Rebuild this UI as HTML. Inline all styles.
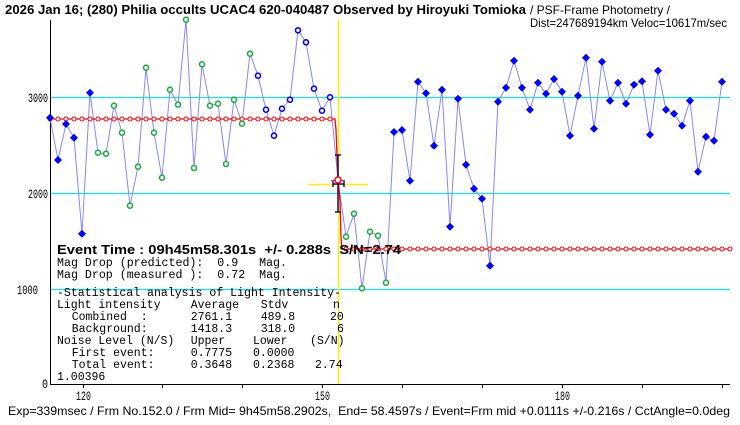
<!DOCTYPE html>
<html><head><meta charset="utf-8"><style>
html,body{margin:0;padding:0;background:#fff;}
svg{display:block;}
text{font-family:"Liberation Mono","Noto Sans CJK JP",monospace;fill:#000;white-space:pre;}
.s{font-family:"Liberation Sans","Noto Sans CJK JP",sans-serif;}
</style></head><body>
<svg width="740" height="425" viewBox="0 0 740 425" xmlns="http://www.w3.org/2000/svg" xml:space="preserve">
<rect width="740" height="425" fill="#fff"/>
<text x="5" y="14" font-size="13" font-weight="bold" class="s" textLength="521" lengthAdjust="spacingAndGlyphs">2026 Jan 16; (280) Philia occults UCAC4 620-040487 Observed by Hiroyuki Tomioka</text>
<text x="530" y="14" font-size="12" class="s" textLength="140" lengthAdjust="spacingAndGlyphs">/ PSF-Frame Photometry /</text>
<text x="530" y="27" font-size="12" class="s" textLength="197" lengthAdjust="spacingAndGlyphs">Dist=247689194km Veloc=10617m/sec</text>
<g stroke="#10e8f0" stroke-width="1.3">
<line x1="50" y1="97.5" x2="730" y2="97.5"/>
<line x1="50" y1="193.5" x2="730" y2="193.5"/>
<line x1="50" y1="289.5" x2="730" y2="289.5"/>
</g>
<line x1="50.5" y1="20" x2="50.5" y2="384" stroke="#000"/>
<line x1="50" y1="384.5" x2="730" y2="384.5" stroke="#000"/>
<g stroke="#000">
<line x1="83.5" y1="384" x2="83.5" y2="388"/><line x1="162.5" y1="384" x2="162.5" y2="388"/><line x1="242.5" y1="384" x2="242.5" y2="388"/><line x1="322.5" y1="384" x2="322.5" y2="388"/><line x1="402.5" y1="384" x2="402.5" y2="388"/><line x1="482.5" y1="384" x2="482.5" y2="388"/><line x1="562.5" y1="384" x2="562.5" y2="388"/><line x1="642.5" y1="384" x2="642.5" y2="388"/><line x1="722.5" y1="384" x2="722.5" y2="388"/>
</g>
<g font-size="13" class="s">
<text x="28" y="102" textLength="20" lengthAdjust="spacingAndGlyphs">3000</text>
<text x="28" y="198" textLength="20" lengthAdjust="spacingAndGlyphs">2000</text>
<text x="17" y="294" textLength="21" lengthAdjust="spacingAndGlyphs">1000</text>
<text x="42" y="388" textLength="6" lengthAdjust="spacingAndGlyphs">0</text>
<text x="76" y="400" textLength="15" lengthAdjust="spacingAndGlyphs">120</text>
<text x="315" y="400" textLength="15" lengthAdjust="spacingAndGlyphs">150</text>
<text x="555" y="400" textLength="15" lengthAdjust="spacingAndGlyphs">180</text>
</g>
<line x1="338.5" y1="20" x2="338.5" y2="384" stroke="#ffee00" stroke-width="1.5"/>
<line x1="308" y1="184.5" x2="368" y2="184.5" stroke="#ffee00" stroke-width="1.5"/>
<polyline fill="none" stroke="#8888ee" stroke-width="1" points="50,117.7 58,160 66,124 74,137.7 82,233.7 90,92.7 98,152.7 106,153.7 114,105.7 122,132.7 130,205.7 138,166.7 146,67.7 154,132.7 162,177.7 170,89.7 178,104.7 186,19.7 194,168 202,64.3 210,105.7 218,103.7 226,164 234,99.7 242,123.7 250,53.7 258,75.7 266,109.7 274,135.7 282,108.7 290,99.7 298,30.3 306,42.3 314,88.7 322,110.7 330,97.3 338,180 346,236.7 354,213.7 362,288.3 370,231.7 378,235.7 386,282.7 394,132 402,130 410,180.7 418,81.7 426,93.3 434,145.7 442,89.7 450,226.7 458,98.7 466,164.7 474,188.7 482,198.7 490,265.7 498,101.7 506,87.7 514,60.7 522,87.7 530,109.7 538,82.7 546,93.7 554,79 562,91.7 570,135.7 578,95.7 586,57.7 594,128.7 602,61.7 610,100.7 618,82.7 626,103.7 634,84.7 642,81.3 650,134.7 658,70.7 666,109.7 674,113.7 682,125.7 690,100.7 698,171.7 706,136.7 714,140.7 722,81.7"/>
<polyline fill="none" stroke="#ff0000" stroke-width="1.3" points="50,119 335,119 336,130 338,180 340,200 341,238 342,249 730,249"/>
<g fill="#fff" stroke="#ff0000" stroke-width="1">
<circle cx="50" cy="119" r="2"/><circle cx="58" cy="119" r="2"/><circle cx="66" cy="119" r="2"/><circle cx="74" cy="119" r="2"/><circle cx="82" cy="119" r="2"/><circle cx="90" cy="119" r="2"/><circle cx="98" cy="119" r="2"/><circle cx="106" cy="119" r="2"/><circle cx="114" cy="119" r="2"/><circle cx="122" cy="119" r="2"/><circle cx="130" cy="119" r="2"/><circle cx="138" cy="119" r="2"/><circle cx="146" cy="119" r="2"/><circle cx="154" cy="119" r="2"/><circle cx="162" cy="119" r="2"/><circle cx="170" cy="119" r="2"/><circle cx="178" cy="119" r="2"/><circle cx="186" cy="119" r="2"/><circle cx="194" cy="119" r="2"/><circle cx="202" cy="119" r="2"/><circle cx="210" cy="119" r="2"/><circle cx="218" cy="119" r="2"/><circle cx="226" cy="119" r="2"/><circle cx="234" cy="119" r="2"/><circle cx="242" cy="119" r="2"/><circle cx="250" cy="119" r="2"/><circle cx="258" cy="119" r="2"/><circle cx="266" cy="119" r="2"/><circle cx="274" cy="119" r="2"/><circle cx="282" cy="119" r="2"/><circle cx="290" cy="119" r="2"/><circle cx="298" cy="119" r="2"/><circle cx="306" cy="119" r="2"/><circle cx="314" cy="119" r="2"/><circle cx="322" cy="119" r="2"/><circle cx="330" cy="119" r="2"/>
<circle cx="346" cy="249" r="2"/><circle cx="354" cy="249" r="2"/><circle cx="362" cy="249" r="2"/><circle cx="370" cy="249" r="2"/><circle cx="378" cy="249" r="2"/><circle cx="386" cy="249" r="2"/><circle cx="394" cy="249" r="2"/><circle cx="402" cy="249" r="2"/><circle cx="410" cy="249" r="2"/><circle cx="418" cy="249" r="2"/><circle cx="426" cy="249" r="2"/><circle cx="434" cy="249" r="2"/><circle cx="442" cy="249" r="2"/><circle cx="450" cy="249" r="2"/><circle cx="458" cy="249" r="2"/><circle cx="466" cy="249" r="2"/><circle cx="474" cy="249" r="2"/><circle cx="482" cy="249" r="2"/><circle cx="490" cy="249" r="2"/><circle cx="498" cy="249" r="2"/><circle cx="506" cy="249" r="2"/><circle cx="514" cy="249" r="2"/><circle cx="522" cy="249" r="2"/><circle cx="530" cy="249" r="2"/><circle cx="538" cy="249" r="2"/><circle cx="546" cy="249" r="2"/><circle cx="554" cy="249" r="2"/><circle cx="562" cy="249" r="2"/><circle cx="570" cy="249" r="2"/><circle cx="578" cy="249" r="2"/><circle cx="586" cy="249" r="2"/><circle cx="594" cy="249" r="2"/><circle cx="602" cy="249" r="2"/><circle cx="610" cy="249" r="2"/><circle cx="618" cy="249" r="2"/><circle cx="626" cy="249" r="2"/><circle cx="634" cy="249" r="2"/><circle cx="642" cy="249" r="2"/><circle cx="650" cy="249" r="2"/><circle cx="658" cy="249" r="2"/><circle cx="666" cy="249" r="2"/><circle cx="674" cy="249" r="2"/><circle cx="682" cy="249" r="2"/><circle cx="690" cy="249" r="2"/><circle cx="698" cy="249" r="2"/><circle cx="706" cy="249" r="2"/><circle cx="714" cy="249" r="2"/><circle cx="722" cy="249" r="2"/><circle cx="730" cy="249" r="2"/>
</g>
<g fill="#0000ff">
<path d="M50 113.7l4 4-4 4-4-4z M58 156l4 4-4 4-4-4z M66 120l4 4-4 4-4-4z M74 133.7l4 4-4 4-4-4z M82 229.7l4 4-4 4-4-4z M90 88.7l4 4-4 4-4-4z
M394 128l4 4-4 4-4-4z M402 126l4 4-4 4-4-4z M410 176.7l4 4-4 4-4-4z M418 77.7l4 4-4 4-4-4z M426 89.3l4 4-4 4-4-4z M434 141.7l4 4-4 4-4-4z M442 85.7l4 4-4 4-4-4z M450 222.7l4 4-4 4-4-4z M458 94.7l4 4-4 4-4-4z M466 160.7l4 4-4 4-4-4z M474 184.7l4 4-4 4-4-4z M482 194.7l4 4-4 4-4-4z M490 261.7l4 4-4 4-4-4z M498 97.7l4 4-4 4-4-4z M506 83.7l4 4-4 4-4-4z M514 56.7l4 4-4 4-4-4z M522 83.7l4 4-4 4-4-4z M530 105.7l4 4-4 4-4-4z M538 78.7l4 4-4 4-4-4z M546 89.7l4 4-4 4-4-4z M554 75l4 4-4 4-4-4z M562 87.7l4 4-4 4-4-4z M570 131.7l4 4-4 4-4-4z M578 91.7l4 4-4 4-4-4z M586 53.7l4 4-4 4-4-4z M594 124.7l4 4-4 4-4-4z M602 57.7l4 4-4 4-4-4z M610 96.7l4 4-4 4-4-4z M618 78.7l4 4-4 4-4-4z M626 99.7l4 4-4 4-4-4z M634 80.7l4 4-4 4-4-4z M642 77.3l4 4-4 4-4-4z M650 130.7l4 4-4 4-4-4z M658 66.7l4 4-4 4-4-4z M666 105.7l4 4-4 4-4-4z M674 109.7l4 4-4 4-4-4z M682 121.7l4 4-4 4-4-4z M690 96.7l4 4-4 4-4-4z M698 167.7l4 4-4 4-4-4z M706 132.7l4 4-4 4-4-4z M714 136.7l4 4-4 4-4-4z M722 77.7l4 4-4 4-4-4z"/>
</g>
<g fill="#fff" stroke="#22aa44" stroke-width="1.6">
<circle cx="98" cy="152.7" r="2.5"/><circle cx="106" cy="153.7" r="2.5"/><circle cx="114" cy="105.7" r="2.5"/><circle cx="122" cy="132.7" r="2.5"/><circle cx="130" cy="205.7" r="2.5"/><circle cx="138" cy="166.7" r="2.5"/><circle cx="146" cy="67.7" r="2.5"/><circle cx="154" cy="132.7" r="2.5"/><circle cx="162" cy="177.7" r="2.5"/><circle cx="170" cy="89.7" r="2.5"/><circle cx="178" cy="104.7" r="2.5"/><circle cx="186" cy="19.7" r="2.5"/><circle cx="194" cy="168" r="2.5"/><circle cx="202" cy="64.3" r="2.5"/><circle cx="210" cy="105.7" r="2.5"/><circle cx="218" cy="103.7" r="2.5"/><circle cx="226" cy="164" r="2.5"/><circle cx="234" cy="99.7" r="2.5"/><circle cx="242" cy="123.7" r="2.5"/><circle cx="250" cy="53.7" r="2.5"/>
<circle cx="346" cy="236.7" r="2.5"/><circle cx="354" cy="213.7" r="2.5"/><circle cx="362" cy="288.3" r="2.5"/><circle cx="370" cy="231.7" r="2.5"/><circle cx="378" cy="235.7" r="2.5"/><circle cx="386" cy="282.7" r="2.5"/>
</g>
<g fill="#fff" stroke="#0000ff" stroke-width="1.6">
<circle cx="258" cy="75.7" r="2.5"/><circle cx="266" cy="109.7" r="2.5"/><circle cx="274" cy="135.7" r="2.5"/><circle cx="282" cy="108.7" r="2.5"/><circle cx="290" cy="99.7" r="2.5"/><circle cx="298" cy="30.3" r="2.5"/><circle cx="306" cy="42.3" r="2.5"/><circle cx="314" cy="88.7" r="2.5"/><circle cx="322" cy="110.7" r="2.5"/><circle cx="330" cy="97.3" r="2.5"/>
</g>
<g stroke="#101060" stroke-width="1.5" fill="none">
<line x1="338" y1="155" x2="338" y2="212"/>
<line x1="335" y1="155" x2="341" y2="155"/>
<line x1="335" y1="212" x2="341" y2="212"/>
<line x1="333" y1="184" x2="344" y2="184"/>
<line x1="333" y1="181" x2="333" y2="187"/>
<line x1="344" y1="181" x2="344" y2="187"/>
</g>
<line x1="331" y1="180.5" x2="345" y2="180.5" stroke="#ff00ff" stroke-width="1"/>
<circle cx="338" cy="180" r="3" fill="#fff" stroke="#ff0000" stroke-width="1.5"/>
<text x="57" y="254" font-size="13" font-weight="bold" class="s" textLength="344" lengthAdjust="spacingAndGlyphs">Event Time : 09h45m58.301s  +/- 0.288s  S/N=2.74</text>
<g font-size="11.5">
<text x="57" y="266" textLength="230" lengthAdjust="spacingAndGlyphs">Mag Drop (predicted):  0.9   Mag.</text>
<text x="57" y="278" textLength="230" lengthAdjust="spacingAndGlyphs">Mag Drop (measured ):  0.72  Mag.</text>
<text x="57" y="296" textLength="284" lengthAdjust="spacingAndGlyphs">-Statistical analysis of Light Intensity-</text>
<text x="57" y="308">Light intensity</text><text x="190.7" y="308">Average</text><text x="260.7" y="308">Stdv</text><text x="333" y="308">n</text>
<text x="71.7" y="320">Combined  :</text><text x="190.7" y="320">2761.1</text><text x="260.7" y="320">489.8</text><text x="330" y="320">20</text>
<text x="71.7" y="332">Background:</text><text x="190.7" y="332">1418.3</text><text x="260.7" y="332">318.0</text><text x="337" y="332">6</text>
<text x="57" y="344">Noise Level (N/S)</text><text x="190.7" y="344">Upper</text><text x="253" y="344">Lower</text><text x="310" y="344">(S/N)</text>
<text x="71.7" y="356">First event:</text><text x="190.7" y="356">0.7775</text><text x="253" y="356">0.0000</text>
<text x="71.7" y="368">Total event:</text><text x="190.7" y="368">0.3648</text><text x="253" y="368">0.2368</text><text x="315" y="368">2.74</text>
<text x="57" y="380">1.00396</text>
</g>
<text x="8" y="415" font-size="12" class="s" textLength="722" lengthAdjust="spacingAndGlyphs">Exp=339msec / Frm No.152.0 / Frm Mid= 9h45m58.2902s,  End= 58.4597s / Event=Frm mid +0.0111s +/-0.216s / CctAngle=0.0deg</text>
</svg>
</body></html>
